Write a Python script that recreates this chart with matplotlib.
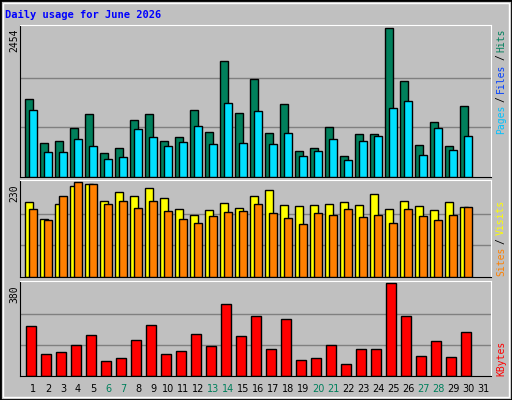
import numpy as np
import matplotlib
matplotlib.use("Agg")
import matplotlib.pyplot as plt
from matplotlib.patches import Rectangle

days = list(range(1, 32))
hits = [1291, 557, 590, 807, 1041, 390, 473, 940, 1041, 590, 657, 1107, 740, 1909, 1057,
        1608, 723, 1208, 423, 473, 824, 339, 707, 707, 2454, 1575, 523, 907, 506, 1174]
files = [1107, 406, 406, 623, 506, 289, 323, 790, 657, 506, 573, 840, 540, 1224, 557,
         1091, 540, 723, 339, 423, 623, 273, 590, 673, 1141, 1258, 356, 807, 440, 673]
visits = [182, 140, 177, 220, 225, 185, 205, 195, 215, 192, 165, 150, 162, 180, 167,
          197, 210, 175, 172, 175, 177, 182, 175, 200, 165, 185, 172, 162, 182, 170]
sites = [165, 137, 197, 230, 225, 177, 185, 167, 185, 160, 140, 130, 147, 157, 160,
         177, 155, 142, 127, 155, 150, 165, 145, 150, 130, 165, 147, 137, 150, 170]
kbytes = [205, 89, 97, 126, 168, 60, 72, 147, 209, 89, 101, 172, 122, 293, 164,
          243, 110, 234, 64, 72, 126, 51, 110, 110, 380, 243, 80, 143, 76, 180]
weekends = [6, 7, 13, 14, 20, 21, 27, 28]

W, H = 512, 400
BG = "#C0C0C0"
fig = plt.figure(figsize=(W / 100, H / 100), dpi=100)
fig.patch.set_facecolor(BG)
fig.patches.append(Rectangle((0, 0), 1, 1, transform=fig.transFigure, fill=False,
                             edgecolor="black", lw=2))
fig.patches.append(Rectangle((3 / W, 3 / H), 1 - 6 / W, 1 - 6 / H, transform=fig.transFigure,
                             fill=False, edgecolor="white", lw=1))

MONO = "DejaVu Sans Mono"
fig.text(5 / W, 1 - 15 / H, "Daily usage for June 2026", color="#0000FF",
         fontsize=7.5, weight="bold", family=MONO, va="center")

x = np.arange(1, 31)
x0, x1 = 0.133, 31.53


def panel(top, bottom, ymax):
    ax = fig.add_axes([20 / W, 1 - bottom / H, 471 / W, (bottom - top) / H])
    ax.set_facecolor(BG)
    ax.set_xlim(x0, x1)
    ax.set_ylim(0, ymax * 1.02)
    for v in (ymax / 3, ymax * 2 / 3):
        ax.axhline(v, color="#808080", lw=1, zorder=0)
    ax.set_xticks([])
    ax.set_yticks([])
    for s in ax.spines.values():
        s.set_color("black")
    ax.spines["top"].set_color("white")
    ax.spines["right"].set_color("white")
    fig.text(14 / W, 1 - (top + 4) / H, str(ymax), rotation=90, ha="center", va="top",
             fontsize=7, family=MONO)
    return ax


ax1 = panel(25, 177, max(hits))
ax1.bar(x - 0.27, hits, 0.5, color="#00805C", edgecolor="black", lw=1, zorder=2)
ax1.bar(x, files, 0.5, color="#00E0FF", edgecolor="black", lw=1, zorder=3)

ax2 = panel(180, 277, max(sites))
ax2.bar(x - 0.27, visits, 0.5, color="#FFFF00", edgecolor="black", lw=1, zorder=2)
ax2.bar(x, sites, 0.5, color="#FF8000", edgecolor="black", lw=1, zorder=3)

ax3 = panel(281, 376, max(kbytes))
ax3.bar(x - 0.11, kbytes, 0.67, color="#FF0000", edgecolor="black", lw=1, zorder=2)

renderer = fig.canvas.get_renderer()


def side_label(parts, top):
    y = top
    for txt, col in parts:
        t = fig.text(501 / W, 1 - y / H, txt, rotation=90, ha="center", va="top", color=col,
                     fontsize=7, family=MONO)
        y += t.get_window_extent(renderer).height + 3


side_label([("Hits", "#00805C"), ("/", "black"), ("Files", "#0040FF"), ("/", "black"),
            ("Pages", "#00C0FF")], 28)
side_label([("Visits", "#FFFF00"), ("/", "black"), ("Sites", "#FF8000")], 200)
side_label([("KBytes", "#FF0000")], 341)

for d in days:
    col = "#00805C" if d in weekends else "black"
    xp = 20 + (d - x0) * 15
    fig.text(xp / W, 1 - 389 / H, str(d), ha="center", va="center", color=col,
             fontsize=7, family="DejaVu Sans")

fig.savefig("out.png", dpi=100, facecolor=BG)
